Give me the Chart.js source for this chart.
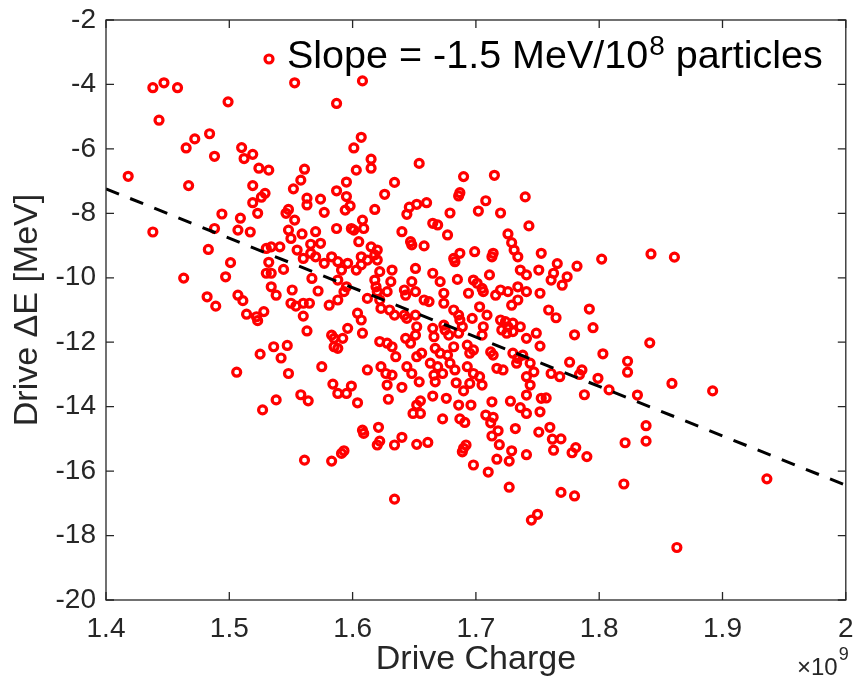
<!DOCTYPE html>
<html>
<head>
<meta charset="utf-8">
<title>Drive charge vs drive energy change</title>
<script src="https://cdn.jsdelivr.net/npm/chart.js@4.4.1/dist/chart.umd.min.js"></script>
<style>
  html, body { margin: 0; padding: 0; background: #fff; }
  #wrap { width: 853px; height: 681px; }
</style>
</head>
<body>
<div id="wrap"><canvas id="scatterChart" width="853" height="681"></canvas></div>
<script>
// drive charge, in units of 1e9 particles
const chargeE9 = [
  1.438, 1.447, 1.458, 1.553, 1.499, 1.443, 1.472, 1.484, 1.465, 1.510,
  1.519, 1.512, 1.488, 1.524, 1.532, 1.561, 1.418, 1.467, 1.519, 1.558,
  1.552, 1.529, 1.526, 1.519, 1.563, 1.563, 1.574, 1.577, 1.494, 1.509,
  1.523, 1.548, 1.546,
  1.608, 1.587, 1.607, 1.601, 1.615, 1.615, 1.603, 1.654, 1.595, 1.587,
  1.595, 1.598, 1.594, 1.618, 1.626, 1.634, 1.690, 1.715, 1.740, 1.687,
  1.686, 1.708, 1.702, 1.720, 1.679, 1.660, 1.652, 1.646, 1.644, 1.608,
  1.842, 1.861, 1.802, 1.782, 1.766, 1.763, 1.774, 1.761, 1.770, 1.792,
  1.759, 1.765, 1.795, 1.780, 1.841, 1.803, 1.823, 1.823, 1.776, 1.786,
  1.784, 1.799, 1.761, 1.768, 1.859,
  1.892, 1.831, 1.808, 1.788, 1.757, 1.838, 1.838, 1.821, 1.760, 1.762,
  1.769, 1.763, 1.781, 1.778, 1.790, 1.820, 1.769, 1.780, 1.936, 1.863,
  1.634, 1.727, 1.745, 1.750, 1.710, 1.698, 1.727, 1.717, 1.729, 1.741,
  1.690, 1.689, 1.692, 1.719, 1.713, 1.718, 1.732, 1.751, 1.673, 1.687,
  1.691, 1.708, 1.714, 1.712, 1.649, 1.655, 1.652, 1.655, 1.665, 1.676,
  1.686, 1.696, 1.713, 1.728, 1.736, 1.741, 1.741, 1.752, 1.753, 1.744,
  1.690, 1.705, 1.695, 1.684, 1.667, 1.654, 1.640, 1.628, 1.629, 1.604,
  1.599, 1.588, 1.595, 1.584, 1.608, 1.609, 1.621, 1.622, 1.620, 1.634,
  1.640, 1.652, 1.661, 1.593, 1.591, 1.583,
  1.527, 1.538, 1.558, 1.564, 1.561,
  1.438, 1.463, 1.483, 1.488, 1.501, 1.497, 1.482, 1.489, 1.507, 1.511,
  1.514, 1.522, 1.523, 1.528, 1.507, 1.517, 1.530, 1.534, 1.541, 1.532,
  1.530, 1.534, 1.534, 1.538, 1.544, 1.551, 1.550, 1.554, 1.560, 1.565,
  1.560, 1.572, 1.567, 1.563, 1.548, 1.550, 1.559, 1.570, 1.566, 1.555,
  1.560, 1.566, 1.570, 1.574, 1.577, 1.553, 1.536, 1.547, 1.525, 1.542,
  1.575, 1.506, 1.548,
  1.587, 1.599, 1.601, 1.609, 1.640, 1.665, 1.669, 1.677, 1.726, 1.743,
  1.605, 1.647, 1.648, 1.658, 1.729, 1.731, 1.615, 1.620, 1.618, 1.607,
  1.612, 1.699, 1.687, 1.682, 1.683, 1.714, 1.713, 1.734, 1.753, 1.583,
  1.588, 1.596, 1.603, 1.607, 1.591, 1.620, 1.651, 1.632, 1.622, 1.665,
  1.671, 1.685, 1.698, 1.701, 1.711, 1.736, 1.741, 1.751, 1.588, 1.595,
  1.618, 1.619, 1.631, 1.648, 1.642, 1.643, 1.651, 1.628, 1.620, 1.658,
  1.662, 1.674, 1.694, 1.705, 1.706, 1.720, 1.716, 1.726, 1.734, 1.741,
  1.734, 1.752, 1.729, 1.593, 1.588, 1.581, 1.612, 1.622, 1.623, 1.630,
  1.634, 1.642, 1.644, 1.651, 1.674, 1.682, 1.686, 1.703, 1.709, 1.697,
  1.604, 1.607, 1.596, 1.608, 1.583, 1.585, 1.592, 1.585, 1.588, 1.652,
  1.651, 1.665, 1.666, 1.674, 1.675, 1.678, 1.687, 1.689, 1.686, 1.706,
  1.705, 1.720, 1.724, 1.730, 1.726, 1.736, 1.721, 1.725, 1.730, 1.741,
  1.749, 1.752, 1.622, 1.628, 1.632, 1.643, 1.647, 1.656, 1.652, 1.635,
  1.667, 1.671, 1.677, 1.682, 1.693, 1.698, 1.695, 1.712, 1.714, 1.730,
  1.734, 1.738, 1.733, 1.744, 1.747, 1.623, 1.627, 1.632, 1.612, 1.644,
  1.648, 1.663, 1.669, 1.673, 1.666, 1.679, 1.683, 1.693, 1.698, 1.703,
  1.717, 1.722, 1.741
];

// drive energy change [MeV]
const deltaE = [
  -4.10, -3.95, -4.10, -3.95, -4.54, -5.11, -5.69, -5.53, -5.97, -5.96,
  -6.17, -6.30, -6.23, -6.60, -6.66, -6.63, -6.85, -7.14, -7.14, -6.97,
  -7.24, -7.38, -7.50, -7.67, -7.53, -7.74, -7.56, -7.97, -8.02, -8.15,
  -8.00, -7.88, -8.00,
  -3.89, -4.59, -5.64, -5.97, -6.32, -6.60, -6.66, -6.45, -7.03, -7.30,
  -7.48, -7.77, -7.90, -7.88, -7.41, -7.04, -6.86, -6.82, -7.49, -7.36,
  -7.46, -7.61, -7.93, -7.99, -7.99, -7.67, -7.72, -7.81, -8.03, -8.21,
  -9.26, -9.36, -9.42, -9.64, -9.56, -9.86, -9.97, -10.07, -10.23, -10.97,
  -11.00, -11.24, -11.55, -11.77, -12.02, -12.36, -12.59, -12.93, -12.62, -12.86,
  -13.00, -13.12, -12.97, -13.07, -13.28,
  -13.51, -13.64, -13.48, -13.63, -13.73, -14.59, -15.07, -15.12, -14.64, -15.01,
  -15.00, -15.35, -15.27, -15.43, -15.55, -16.40, -16.66, -16.77, -16.24, -18.37,
  -16.87, -16.50, -17.52, -17.34, -16.03, -15.81, -15.69, -15.63, -15.37, -15.49,
  -15.29, -15.40, -15.19, -15.18, -14.91, -14.75, -14.68, -14.79, -14.38, -14.38,
  -14.49, -14.26, -14.33, -14.50, -14.21, -14.21, -13.95, -13.82, -13.67, -13.74,
  -13.95, -13.95, -13.85, -13.83, -14.03, -14.21, -13.64, -14.16, -13.74, -13.33,
  -13.51, -13.33, -13.28, -13.26, -13.23, -13.23, -13.40, -13.33, -13.77, -13.88,
  -13.36, -13.59, -13.59, -13.30, -14.73, -14.83, -14.64, -15.07, -15.19, -15.19,
  -14.95, -15.17, -15.11, -15.37, -15.45, -15.69,
  -14.10, -13.79, -13.63, -13.82, -15.66,
  -8.58, -10.01, -9.12, -8.47, -9.53, -9.97, -10.59, -10.88, -10.54, -10.71,
  -11.13, -11.21, -11.33, -11.05, -8.52, -8.58, -9.09, -9.04, -9.04, -9.52,
  -9.86, -9.86, -10.28, -10.54, -9.74, -10.38, -10.79, -10.88, -10.79, -10.79,
  -11.19, -10.41, -10.02, -11.65, -8.52, -8.78, -8.64, -8.57, -8.96, -9.14,
  -9.40, -9.24, -9.35, -8.93, -9.55, -8.21, -12.14, -12.10, -12.37, -12.49,
  -12.76, -12.93, -12.97,
  -8.47, -8.47, -8.52, -8.47, -8.57, -8.31, -8.36, -8.67, -8.64, -8.39,
  -8.88, -8.88, -8.98, -9.01, -8.91, -9.14, -9.04, -9.14, -9.29, -9.35,
  -9.45, -9.19, -9.24, -9.40, -9.50, -9.24, -9.35, -9.35, -9.24, -9.35,
  -9.50, -9.55, -9.76, -9.60, -9.76, -9.45, -9.71, -9.76, -9.81, -9.86,
  -10.12, -10.05, -10.07, -10.17, -9.91, -9.76, -9.91, -9.76, -10.07, -10.28,
  -10.07, -10.28, -10.12, -10.12, -10.38, -10.54, -10.43, -10.43, -10.43, -10.69,
  -10.74, -10.48, -10.48, -10.33, -10.43, -10.38, -10.54, -10.43, -10.28, -10.43,
  -10.69, -10.48, -10.85, -10.43, -10.69, -10.85, -10.64, -10.69, -10.95, -11.00,
  -11.16, -11.16, -11.26, -11.16, -10.79, -11.00, -11.16, -10.90, -11.16, -11.26,
  -11.10, -11.31, -11.57, -11.72, -11.78, -11.88, -11.88, -12.14, -12.19, -11.52,
  -11.78, -11.57, -11.83, -11.47, -11.62, -11.78, -11.31, -11.52, -11.72, -11.52,
  -11.78, -11.31, -11.36, -11.41, -11.52, -11.52, -11.62, -11.72, -11.67, -11.88,
  -11.72, -12.12, -11.98, -12.03, -12.14, -11.88, -12.03, -12.34, -12.45, -12.45,
  -12.19, -12.34, -12.40, -12.14, -12.09, -12.24, -12.34, -12.30, -12.40, -12.34,
  -12.50, -12.40, -12.65, -12.65, -12.92, -12.76, -12.97, -13.02, -12.86, -12.76,
  -12.97, -12.65, -12.76, -12.97, -13.02, -12.65, -12.86, -12.76, -12.97, -13.07,
  -12.81, -12.86, -13.07
];

// linear fit, slope -1.5 MeV per 1e8 particles
const fitCharge = [1.4, 2.0];
const fitDeltaE = [-7.24, -16.44];

const xTicks = [1.4, 1.5, 1.6, 1.7, 1.8, 1.9, 2];
const yTicks = [-20, -18, -16, -14, -12, -10, -8, -6, -4, -2];

const axisColor = '#262626';
const fontFamily = "'Liberation Sans', Arial, Helvetica, sans-serif";

// MATLAB style box with inward ticks, plus the legend and the x10^9 note
const framePlugin = {
    id: 'matlabFrame',
    afterDraw(chart) {
        const { ctx, chartArea: a, scales: { x, y } } = chart;
        ctx.save();
        ctx.strokeStyle = axisColor;
        ctx.lineWidth = 1.3;
        ctx.strokeRect(a.left, a.top, a.right - a.left, a.bottom - a.top);
        ctx.beginPath();
        x.ticks.forEach(t => {
            const px = x.getPixelForValue(t.value);
            ctx.moveTo(px, a.bottom); ctx.lineTo(px, a.bottom - 8);
            ctx.moveTo(px, a.top); ctx.lineTo(px, a.top + 8);
        });
        y.ticks.forEach(t => {
            const py = y.getPixelForValue(t.value);
            ctx.moveTo(a.left, py); ctx.lineTo(a.left + 8, py);
            ctx.moveTo(a.right, py); ctx.lineTo(a.right - 8, py);
        });
        ctx.stroke();

        // legend
        const lx = a.left + 163, ly = a.top + 39;
        ctx.beginPath();
        ctx.strokeStyle = '#ff0000';
        ctx.lineWidth = 3.2;
        ctx.arc(lx, ly, 4, 0, Math.PI * 2);
        ctx.stroke();

        ctx.fillStyle = '#000';
        ctx.textBaseline = 'alphabetic';
        ctx.textAlign = 'left';
        let tx = a.left + 181;
        const base = a.top + 48;
        ctx.font = '39.5px ' + fontFamily;
        const part1 = 'Slope = -1.5 MeV/10';
        ctx.fillText(part1, tx, base);
        tx += ctx.measureText(part1).width + 1;
        ctx.font = '28px ' + fontFamily;
        ctx.fillText('8', tx, base - 13);
        tx += ctx.measureText('8').width;
        ctx.font = '39.5px ' + fontFamily;
        ctx.fillText(' particles', tx, base);

        // exponent of the x axis
        ctx.fillStyle = axisColor;
        ctx.font = '24px ' + fontFamily;
        ctx.fillText('\u00d710', 797, 675);
        const w = ctx.measureText('\u00d710').width;
        ctx.font = '18px ' + fontFamily;
        ctx.fillText('9', 797 + w + 1, 660);
        ctx.restore();
    }
};

const ctx = document.getElementById('scatterChart');
new Chart(ctx, {
    type: 'scatter',
    data: {
        datasets: [
            {
                type: 'line',
                data: fitCharge.map((c, i) => ({ x: c, y: fitDeltaE[i] })),
                borderColor: '#000',
                borderWidth: 3,
                borderDash: [14, 12],
                pointRadius: 0,
                fill: false,
                order: 0
            },
            {
                data: chargeE9.map((c, i) => ({ x: c, y: deltaE[i] })),
                pointStyle: 'circle',
                pointRadius: 4,
                pointBorderWidth: 3.2,
                borderColor: '#ff0000',
                backgroundColor: 'rgba(0,0,0,0)',
                order: 1
            }
        ]
    },
    options: {
        responsive: false,
        animation: false,
        events: [],
        layout: { padding: { top: 20, right: 2, left: 0, bottom: 0 } },
        plugins: {
            legend: { display: false },
            tooltip: { enabled: false }
        },
        scales: {
            x: {
                type: 'linear',
                min: 1.4,
                max: 2,
                afterBuildTicks: s => { s.ticks = xTicks.map(v => ({ value: v })); },
                afterFit: s => { s.height = 81; s.paddingLeft = 0; s.paddingRight = 0; },
                grid: { display: false, drawTicks: false },
                border: { display: false },
                ticks: {
                    autoSkip: false,
                    maxRotation: 0,
                    minRotation: 0,
                    padding: 12,
                    color: axisColor,
                    font: { family: fontFamily, size: 28 },
                    callback: v => String(Math.round(v * 10) / 10)
                },
                title: {
                    display: true,
                    text: 'Drive Charge',
                    color: axisColor,
                    font: { family: fontFamily, size: 34 },
                    padding: { top: 0, bottom: 1 }
                }
            },
            y: {
                type: 'linear',
                min: -20,
                max: -2,
                afterBuildTicks: s => { s.ticks = yTicks.map(v => ({ value: v })); },
                afterFit: s => { s.width = 106; s.paddingTop = 0; s.paddingBottom = 0; },
                grid: { display: false, drawTicks: false },
                border: { display: false },
                ticks: {
                    autoSkip: false,
                    padding: 10,
                    color: axisColor,
                    font: { family: fontFamily, size: 28 },
                    callback: v => String(v)
                },
                title: {
                    display: true,
                    text: 'Drive \u0394E [MeV]',
                    color: axisColor,
                    font: { family: fontFamily, size: 34 },
                    padding: { top: 7, bottom: 0 }
                }
            }
        }
    },
    plugins: [framePlugin]
});
</script>
</body>
</html>
